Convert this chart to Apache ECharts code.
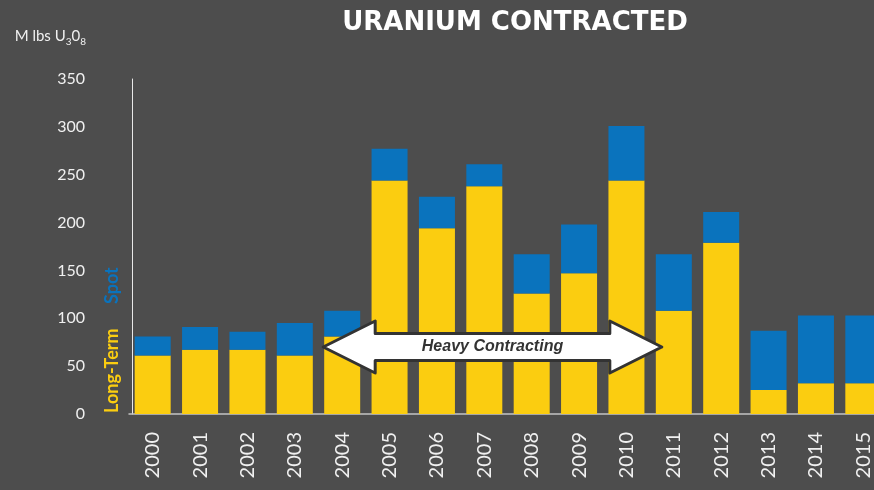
<!DOCTYPE html>
<html>
<head>
<meta charset="utf-8">
<title>Uranium Contracted</title>
<script src="https://cdn.jsdelivr.net/npm/echarts@6/dist/echarts.min.js"></script>
<style>
  html, body { margin: 0; padding: 0; background: #4d4d4d; }
  #chart { width: 874px; height: 490px; }
</style>
</head>
<body>
<div id="chart"></div>
<script>
// data (M lbs U3O8)
var years = ['2000', '2001', '2002', '2003', '2004', '2005', '2006', '2007',
             '2008', '2009', '2010', '2011', '2012', '2013', '2014', '2015'];
var longTerm = [61, 67, 67, 61, 81, 244, 194, 238, 126, 147, 244, 108, 179, 25, 32, 32];
var spot     = [20, 24, 19, 34, 27, 33, 33, 23, 41, 51, 57, 59, 32, 62, 71, 71];
var seriesNames = ['Long-Term', 'Spot'];
var yMax = 350;
var yStep = 50;

// annotation: "Heavy Contracting" arrow from 2004 to 2011
var arrowFrom = '2004';
var arrowTo = '2011';
var arrowLevel = 70;
var arrowText = 'Heavy Contracting';

var yellow = '#fbcd10';
var blue = '#0a73bd';
var textColor = '#f0f0f0';

var chartDom = document.getElementById('chart');
var myChart = echarts.init(chartDom, null, { renderer: 'canvas' });

var option = {
  backgroundColor: '#4d4d4d',
  animation: false,
  title: {
    text: 'URANIUM CONTRACTED',
    left: 510,
    top: 5,
    textAlign: 'center',
    textStyle: {
      color: '#ffffff',
      fontFamily: 'DejaVu Sans',
      fontWeight: 'bold',
      fontSize: 26
    }
  },
  // the plot runs past the right edge of the picture (2015 is cut off)
  grid: {
    left: 129,
    right: -13,
    top: 79,
    bottom: 76,
    containLabel: false,
    outerBoundsMode: 'none'
  },
  xAxis: {
    type: 'category',
    data: years,
    axisLine: { show: true, lineStyle: { color: '#c4c4c4', width: 1.5 } },
    axisTick: { show: false },
    axisLabel: {
      rotate: 90,
      margin: 18,
      color: textColor,
      fontFamily: 'Lato',
      fontSize: 20
    }
  },
  yAxis: {
    type: 'value',
    min: 0,
    max: yMax,
    interval: yStep,
    offset: -3,
    name: 'M lbs U{s|3}0{s|8}',
    nameLocation: 'end',
    nameGap: 32,
    nameTextStyle: {
      color: textColor,
      fontFamily: 'Lato',
      fontSize: 15,
      lineHeight: 22,
      align: 'right',
      padding: [0, 46, 0, 0],
      rich: {
        s: { fontSize: 10, lineHeight: 22, verticalAlign: 'bottom', color: textColor, fontFamily: 'Lato' }
      }
    },
    axisLine: { show: true, lineStyle: { color: '#e8e8e8', width: 1 } },
    axisTick: { show: false },
    splitLine: { show: false },
    axisLabel: {
      margin: 47,
      color: textColor,
      fontFamily: 'Lato',
      fontSize: 16,
      padding: [0, 0, 4, 0]
    }
  },
  series: [
    {
      name: seriesNames[0],
      type: 'bar',
      stack: 'total',
      barWidth: 36,
      data: longTerm,
      itemStyle: { color: yellow }
    },
    {
      name: seriesNames[1],
      type: 'bar',
      stack: 'total',
      barWidth: 36,
      data: spot,
      itemStyle: { color: blue }
    }
  ]
};

myChart.setOption(option);

// legend written vertically beside the axis + the arrow, placed from the axes
function drawExtras() {
  var a = myChart.convertToPixel({ xAxisIndex: 0, yAxisIndex: 0 }, [arrowFrom, arrowLevel]);
  var b = myChart.convertToPixel({ xAxisIndex: 0, yAxisIndex: 0 }, [arrowTo, arrowLevel]);
  var base = myChart.convertToPixel({ xAxisIndex: 0, yAxisIndex: 0 }, [years[0], 0]);
  var xl = a[0] - 19, xr = b[0] - 12, yc = a[1];
  var head = 52, hh = 26, sh = 13.5;
  var pts = [
    [xl, yc], [xl + head, yc - hh], [xl + head, yc - sh],
    [xr - head, yc - sh], [xr - head, yc - hh], [xr, yc],
    [xr - head, yc + hh], [xr - head, yc + sh],
    [xl + head, yc + sh], [xl + head, yc + hh]
  ];
  myChart.setOption({
    graphic: [
      {
        type: 'text',
        x: 112,
        y: base[1] - 1,
        rotation: Math.PI / 2,
        style: { text: seriesNames[0], fill: yellow, font: 'bold 18px Lato', align: 'left', verticalAlign: 'middle' }
      },
      {
        type: 'text',
        x: 112,
        y: base[1] - 110,
        rotation: Math.PI / 2,
        style: { text: seriesNames[1], fill: blue, font: 'bold 18px Lato', align: 'left', verticalAlign: 'middle' }
      },
      {
        type: 'polygon',
        shape: { points: pts },
        style: { fill: '#ffffff', stroke: '#333333', lineWidth: 3, lineJoin: 'round' },
        z: 10
      },
      {
        type: 'text',
        x: (xl + xr) / 2,
        y: yc,
        style: { text: arrowText, fill: '#333333', font: 'italic bold 16px "Liberation Sans"', align: 'center', verticalAlign: 'middle' },
        z: 11
      }
    ]
  });
}
drawExtras();
</script>
</body>
</html>
